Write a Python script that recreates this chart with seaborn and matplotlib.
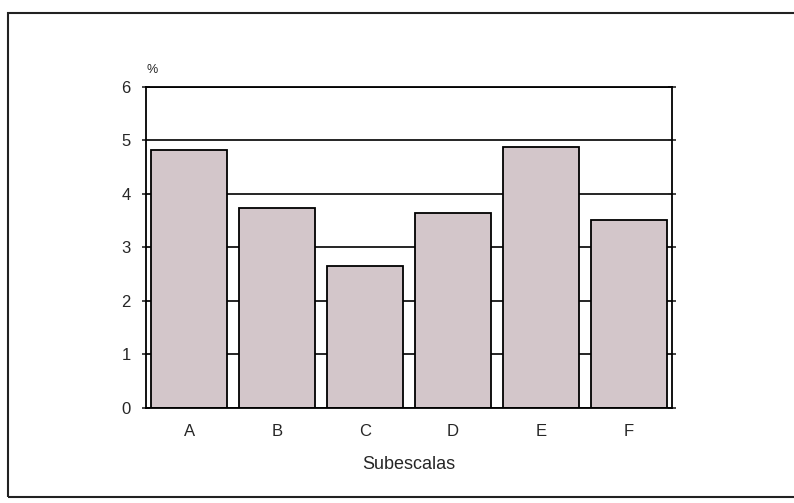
import matplotlib
matplotlib.use("Agg")
import matplotlib.pyplot as plt
import seaborn as sns
from matplotlib.patches import Rectangle

categories = ["A", "B", "C", "D", "E", "F"]
values = [4.82, 3.73, 2.66, 3.65, 4.88, 3.51]
yticks = [0, 1, 2, 3, 4, 5, 6]

sns.set_style("white")
plt.rcParams['font.family'] = ['Liberation Sans', 'DejaVu Sans']

fig = plt.figure(figsize=(7.94, 5.03), dpi=100)
ax = fig.add_axes([0.1839, 0.1889, 0.6625, 0.6382])

sns.barplot(x=categories, y=values, color="#d3c6ca", saturation=1,
            edgecolor="black", linewidth=1.3, width=0.86, ax=ax)

ax.set_xlim(-0.49, 5.49)
ax.set_ylim(0, 6)
ax.set_yticks(yticks)
ax.set_axisbelow(True)
ax.yaxis.grid(True, color="black", linewidth=1.2)
for s in ax.spines.values():
    s.set_color("black")
    s.set_linewidth(1.3)

ax.tick_params(axis="y", which="both", left=True, right=True, direction="inout",
               length=6, width=1.2, labelsize=12, pad=8)
ax.tick_params(axis="x", bottom=False, labelsize=12, pad=8)
ax.set_xlabel("Subescalas", fontsize=13, labelpad=12)
ax.set_ylabel("")
ax.text(0.0, 1.035, "%", transform=ax.transAxes, fontsize=9, ha="left", va="bottom")

# outer frame of the scanned page
fig.patches.append(Rectangle((8 / 794, 1 - 497 / 503), 1.2, (497 - 13) / 503,
                             transform=fig.transFigure, fill=False,
                             edgecolor="#222222", linewidth=1.5))

fig.savefig("out.png", dpi=100)
